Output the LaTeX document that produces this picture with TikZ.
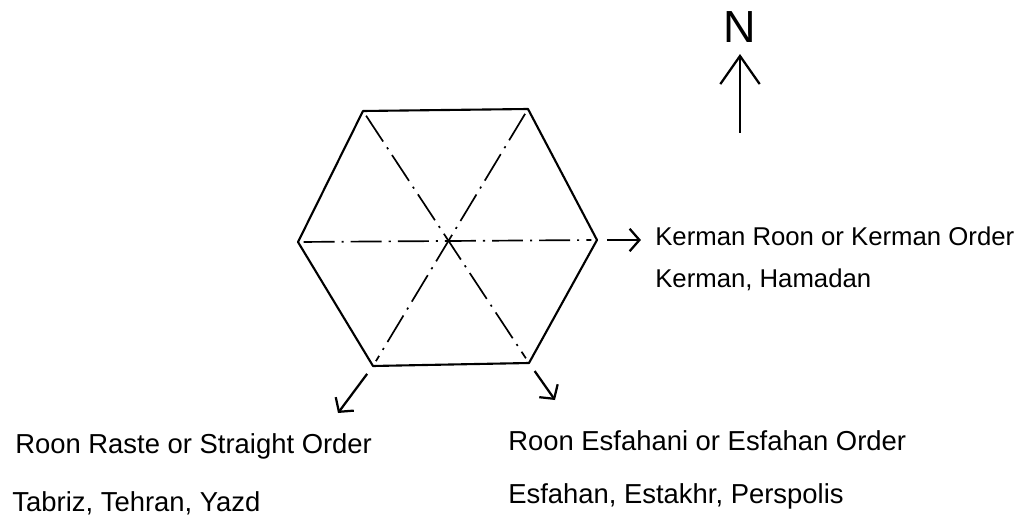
\documentclass[tikz,border=0pt]{standalone}
\usepackage{fontspec}
\setmainfont{Liberation Sans}
\usetikzlibrary{arrows.meta,positioning}

\begin{document}
\begin{tikzpicture}[x=0.025cm,y=-0.025cm,>={Straight Barb[length=7pt,width=16pt]},
  edge/.style={line width=1.5pt,line join=round},
  axis/.style={line width=1.2pt,dash pattern=on 22pt off 5pt on 1.5pt off 5pt,shorten <=4pt,shorten >=4pt},
  pointer/.style={->,line width=1.6pt,shorten <=7pt},
  lbl/.style={inner sep=0pt,font=\fontsize{19.5}{23}\selectfont}]
  \useasboundingbox (0,0) rectangle (1034,525);
  % hexagon corners
  \coordinate (tl) at (363,111);
  \coordinate (tr) at (528,109);
  \coordinate (r) at (597,240);
  \coordinate (br) at (529,363);
  \coordinate (bl) at (373,366);
  \coordinate (l) at (298,242);
  \draw[edge] (tl) -- (tr) -- (r) -- (br) -- (bl) -- (l) -- cycle;
  \draw[axis] (l) -- (r);
  \draw[axis] (tl) -- (br);
  \draw[axis] (tr) -- (bl);

  % north
  \node (N) [lbl,font=\fontsize{32}{36}\selectfont] at (740,27) {N};
  \coordinate (ntail) at (740,133);
  \draw[->,line width=1.6pt,>={Straight Barb[length=20pt,width=28pt]},shorten >=8pt] (ntail) -- (N);

  % labels
  \node (kr) [lbl,font=\fontsize{18.3}{22}\selectfont,anchor=base west] at (655,245) {Kerman Roon or Kerman Order};
  \node (kc) [lbl,font=\fontsize{18.3}{22}\selectfont,below=1.05cm of kr.base west,anchor=base west] {Kerman, Hamadan};
  \node (rr) [lbl,anchor=base west] at (15,453) {Roon Raste or Straight Order};
  \node (rc) [lbl,below=1.45cm of rr.base west,anchor=base west,xshift=-2pt] {Tabriz, Tehran, Yazd};
  \node (re) [lbl,anchor=base west] at (508,450) {Roon Esfahani or Esfahan Order};
  \node (ec) [lbl,below=1.33cm of re.base west,anchor=base west] {Esfahan, Estakhr, Perspolis};

  % pointers
  \coordinate (sw) at (338,413);
  \coordinate (se) at (555,400);
  \draw[pointer,shorten >=10pt] (r) -- (r -| kr.west);
  \draw[pointer] (bl) -- (sw);
  \draw[pointer] (br) -- (se);
\end{tikzpicture}
\end{document}
